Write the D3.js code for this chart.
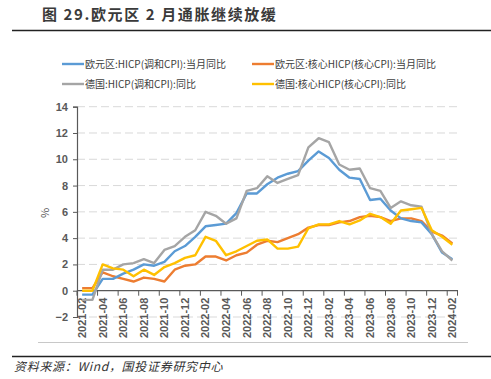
<!DOCTYPE html>
<head>
  <meta charset="utf-8">
  <style>
    body { margin: 0; background: #fff; }
    svg { display: block; font-family: "Noto Sans CJK SC", "Liberation Sans", sans-serif; }
    .grid line { stroke: #d9d9d9; stroke-width: 1; stroke-dasharray: 8,4; }
    .tick-label { font-size: 11px; font-weight: bold; fill: #595959; font-family: "Liberation Sans", Arial, sans-serif; }
    .series { fill: none; stroke-width: 2.4; stroke-linejoin: round; }
  </style>
</head>
<body>
  <svg></svg>
  <script src="https://d3js.org/d3.v7.min.js"></script>
  <script>
  // categories as labelled on the chart (monthly)
  const months = [];
  for (let y = 2021; y <= 2024; y++) {
    for (let m = 1; m <= 12; m++) {
      const s = y + '-' + String(m).padStart(2, '0');
      if (s >= '2021-02' && s <= '2024-02') months.push(s);
    }
  }

  const euroHicp = [-0.3, -0.3, 0.9, 0.9, 1.3, 1.6, 2.0, 1.9, 2.2, 3.0, 3.4, 4.1, 4.9, 5.0, 5.1, 5.9, 7.4, 7.4, 8.1, 8.6, 8.9, 9.1, 9.9, 10.6, 10.1, 9.2, 8.6, 8.5, 6.9, 7.0, 6.1, 5.5, 5.3, 5.2, 4.3, 2.9, 2.4];
  const euroCore = [0.2, 0.2, 1.4, 1.1, 0.9, 0.7, 1.0, 0.9, 0.7, 1.6, 1.9, 2.0, 2.6, 2.6, 2.3, 2.7, 2.9, 3.5, 3.8, 3.7, 4.0, 4.3, 4.8, 5.0, 5.0, 5.2, 5.3, 5.6, 5.7, 5.6, 5.3, 5.5, 5.5, 5.3, 4.5, 4.2, 3.6];
  const deHicp = [-0.7, -0.7, 1.6, 1.6, 2.0, 2.1, 2.4, 2.1, 3.1, 3.4, 4.1, 4.6, 6.0, 5.7, 5.1, 5.5, 7.6, 7.8, 8.7, 8.2, 8.5, 8.8, 10.9, 11.6, 11.3, 9.6, 9.2, 9.3, 7.8, 7.6, 6.3, 6.8, 6.5, 6.4, 4.3, 3.0, 2.3];
  const deCore = [0.0, 0.0, 2.0, 1.7, 1.6, 1.1, 1.6, 1.2, 1.8, 2.1, 2.5, 2.7, 4.1, 3.8, 2.7, 3.0, 3.4, 3.8, 3.9, 3.2, 3.2, 3.35, 4.75, 5.05, 5.05, 5.3, 5.05, 5.35, 5.85, 5.6, 5.1, 6.1, 6.2, 6.3, 4.6, 4.1, 3.5];

  const seriesNames = ['欧元区:HICP(调和CPI):当月同比', '欧元区:核心HICP(核心CPI):当月同比', '德国:HICP(调和CPI):同比', '德国:核心HICP(核心CPI):同比'];
  const seriesColors = ['#5b9bd5', '#ed7d31', '#a5a5a5', '#ffc000'];
  const yTicks = [-2, 0, 2, 4, 6, 8, 10, 12, 14];

  const width = 491, height = 379;
  const svg = d3.select('svg').attr('width', width).attr('height', height);

  // title and rules
  svg.append('text').attr('x', 42).attr('y', 20)
    .style('font-size', '15px').style('font-weight', 'bold').style('fill', '#3a3a3a')
    .style('letter-spacing', '1.6px')
    .text('图 29.欧元区 2 月通胀继续放缓');
  svg.append('line').attr('x1', 12).attr('x2', 491).attr('y1', 30.5).attr('y2', 30.5)
    .attr('stroke', '#222').attr('stroke-width', 1.5);

  const x = d3.scaleBand().domain(months).range([77, 457.5]).padding(0);
  const y = d3.scaleLinear().domain([-2, 14]).range([317, 106.7]);
  const cx = d => x(d) + x.bandwidth() / 2;

  // gridlines
  svg.append('g').classed('grid', true).selectAll('line')
    .data(yTicks.filter(d => d !== 0)).enter().append('line')
    .attr('x1', 77).attr('x2', 458)
    .attr('y1', d => y(d)).attr('y2', d => y(d));

  // y axis
  const yAxis = svg.append('g').attr('transform', 'translate(77,0)')
    .call(d3.axisLeft(y).tickValues(yTicks).tickSize(4).tickPadding(5));
  yAxis.select('.domain').attr('stroke', '#595959').attr('stroke-width', 1.2);
  yAxis.selectAll('.tick line').attr('stroke', '#595959');
  yAxis.selectAll('.tick text').attr('class', 'tick-label');

  svg.append('text').attr('transform', 'translate(49,213) rotate(-90)')
    .attr('text-anchor', 'middle').style('font-size', '11px').style('fill', '#595959')
    .text('%');

  // x axis on zero
  const labelMonths = months.filter((d, i) => i % 2 === 0);
  svg.append('line').attr('x1', 77).attr('x2', 458).attr('y1', y(0)).attr('y2', y(0))
    .attr('stroke', '#595959').attr('stroke-width', 1.2);
  const tickPos = labelMonths.map(d => x(d)).concat([x.range()[1]]);
  svg.append('g').selectAll('line').data(tickPos).enter().append('line')
    .attr('x1', d => d).attr('x2', d => d)
    .attr('y1', y(0)).attr('y2', y(0) + 5)
    .attr('stroke', '#595959');
  svg.append('g').selectAll('text').data(labelMonths).enter().append('text')
    .attr('class', 'tick-label')
    .attr('transform', d => 'translate(' + cx(d) + ',' + (y(0) + 7) + ') rotate(-90)')
    .attr('text-anchor', 'end').attr('dy', '0.35em')
    .text(d => d);

  // series
  const line = d3.line().x((d, i) => cx(months[i])).y(d => y(d));
  const allSeries = [euroHicp, euroCore, deHicp, deCore];
  const drawOrder = [1, 0, 2, 3];
  svg.append('g').selectAll('path').data(drawOrder).enter().append('path')
    .classed('series', true)
    .attr('stroke', k => seriesColors[k])
    .attr('d', k => line(allSeries[k]));

  // legend
  const legendPos = [[62, 64], [252, 64], [62, 84], [252, 84]];
  const legend = svg.append('g').selectAll('g').data(seriesNames).enter().append('g')
    .attr('transform', (d, i) => 'translate(' + legendPos[i][0] + ',' + legendPos[i][1] + ')');
  legend.append('line').attr('x1', 0).attr('x2', 22).attr('y1', 0).attr('y2', 0)
    .attr('stroke', (d, i) => seriesColors[i]).attr('stroke-width', 2.4);
  legend.append('text').attr('x', 23).attr('dy', '0.35em')
    .style('font-size', '10px').style('fill', '#404040')
    .text(d => d);

  // bottom rules and source
  svg.append('line').attr('x1', 38).attr('x2', 468).attr('y1', 342.5).attr('y2', 342.5)
    .attr('stroke', '#c8c8c8').attr('stroke-width', 1);
  svg.append('line').attr('x1', 12).attr('x2', 491).attr('y1', 356.5).attr('y2', 356.5)
    .attr('stroke', '#222').attr('stroke-width', 1.5);
  svg.append('text').attr('x', 14).attr('y', 371)
    .style('font-size', '12px').style('font-style', 'italic').style('fill', '#333')
    .style('letter-spacing', '0.7px')
    .text('资料来源：Wind，国投证券研究中心');
  </script>
</body>
